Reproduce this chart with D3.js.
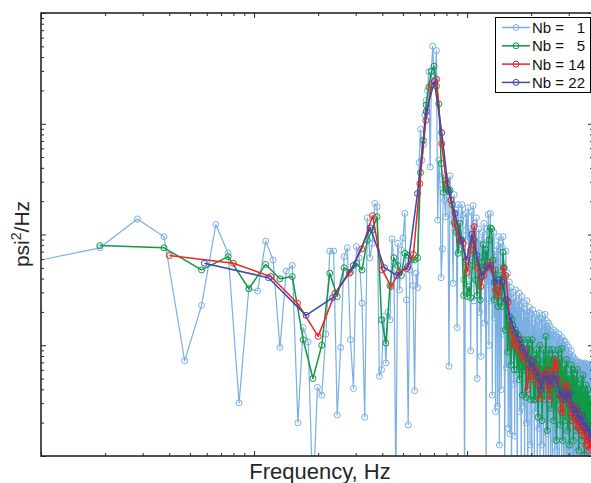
<!DOCTYPE html>
<html>
<head>
<meta charset="utf-8">
<script src="https://cdn.jsdelivr.net/npm/d3@7"></script>
<style>
  body { margin: 0; background: #fff; }
  svg { display: block; font-family: "Liberation Sans", Arial, sans-serif; }
</style>
</head>
<body>
<div id="chart"></div>
<script>
// Number of averaged blocks for each estimate (legend)
const nbValues = [1, 5, 14, 22];
// Frequency resolution of each estimate, Hz per bin
const binWidths = [0.945, 1.89, 4.0, 5.85];
const colors = ["#7aafe3", "#0f9a45", "#ee2424", "#3d48a8"];

// log10 of the PSD (psi^2/Hz), one value per frequency bin
const logPsd1 = [
  -2.24, -2.12, -1.86, -2.02, -3.14, -2.64, -1.91, -2.17, -3.52, -2.49,
  -2.51, -2.06, -2.23, -3.02, -2.33, -2.28, -3.70, -2.84, -2.97, -4.40,
  -3.38, -3.45, -2.90, -2.15, -2.15, -3.63, -3.02, -2.20, -2.12, -2.95,
  -3.39, -2.11, -2.21, -2.62, -3.65, -1.85, -2.21, -2.08, -1.72, -1.75,
  -3.28, -3.22, -2.74, -3.16, -2.70, -2.77, -2.04, -2.26, -4.30, -2.08,
  -2.50, -2.14, -2.03, -1.81, -2.59, -3.72, -2.32, -2.23, -2.46, -3.41,
  -2.35, -2.48, -1.35, -1.05, -1.33, -1.19, -0.92, -0.79, -0.70, -0.53,
  -1.39, -0.52, -0.30, -0.56, -0.60, -0.34, -1.87, -1.33, -1.55, -2.39,
  -2.13, -1.46, -1.69, -1.84, -1.51, -1.60, -3.19, -1.47, -1.69, -1.82,
  -2.44, -1.64, -1.96, -1.78, -2.84, -1.73, -2.14, -2.05, -1.87, -1.73,
  -1.82, -2.41, -4.30, -1.96, -1.81,
  -2.05, -1.76, -2.40, -1.95, -3.05, -1.80, -2.20, -1.74, -2.60, -1.90,
  -2.25, -1.85, -3.30, -2.10, -1.95, -2.70, -2.05, -3.10, -2.15, -1.98,
  -2.35, -1.90, -2.80, -2.10, -4.20, -1.95, -2.45, -1.82, -3.00, -2.20,
  -1.81, -2.60, -2.05, -3.45, -2.30, -1.98, -2.75, -2.15, -3.60, -2.40,
  -2.10, -3.55, -2.25, -2.02, -3.90, -2.50, -2.08, -3.40, -2.65, -2.12,
  -2.02, -2.90, -2.30, -4.30, -2.45, -2.15, -3.20, -2.60, -2.35, -3.75,
  -2.55, -2.43, -3.80, -2.70, -2.48, -4.40, -2.62, -3.05, -2.52, -3.35,
  -2.58, -3.82, -2.75, -2.50, -3.10, -2.66, -4.50, -2.60, -3.25, -2.72,
  -2.53, -3.60, -2.85, -2.65, -4.20, -2.56, -3.00, -2.78, -3.55, -2.62,
  -2.90, -4.10, -2.68, -3.20, -2.75, -3.70, -2.60, -2.95, -4.40, -2.70,
  -3.30, -2.80, -2.66, -3.90, -2.88, -3.05, -2.72, -4.30, -2.95, -2.68,
  -3.50, -2.82, -3.15, -4.20, -2.75, -2.98, -3.60, -2.72, -3.10, -2.88,
  -4.40, -2.78, -3.25, -2.92, -3.75, -2.71, -3.05, -4.10, -2.85, -3.35,
  -2.76, -3.90, -2.95, -2.73, -3.50, -3.10, -4.30, -2.80, -3.00, -3.65,
  -2.72, -3.20, -4.20, -2.90, -2.78, -3.45, -3.80, -2.85, -3.10, -4.50,
  -2.80, -3.30, -2.95, -3.70, -2.83, -4.10, -3.05, -2.88, -3.55, -3.20,
  -4.30, -2.90, -3.15, -2.86, -3.85, -3.00, -3.40, -4.20, -2.92, -3.25,
  -2.88, -3.60, -3.95, -2.95, -3.10, -4.40, -2.93, -3.35, -3.70, -3.00,
  -2.90, -4.20, -3.20, -2.98, -3.50, -3.85, -2.95, -3.15, -4.30, -3.05,
  -2.93, -3.40, -3.75, -3.00, -4.10, -3.10, -2.96, -3.60, -3.30, -4.40,
  -2.97, -3.25, -3.90, -3.05, -3.45, -4.20, -3.00, -3.35, -3.70, -3.10,
  -4.50, -3.02, -3.55, -3.20, -3.95, -3.08, -3.40, -4.30, -3.12, -3.65,
  -3.05, -3.85, -3.30, -4.10, -3.14, -3.50, -3.10, -4.40, -3.25, -3.70,
  -3.12, -3.45, -4.20, -3.15, -3.60, -3.95, -3.13, -3.35, -4.50, -3.20,
  -3.55, -3.16, -3.80, -4.10, -3.18, -3.40, -3.70, -3.15, -4.30, -3.25,
  -3.60, -3.17, -3.90, -3.35, -4.20, -3.16, -3.50, -3.75, -3.20, -4.40,
  -3.30, -3.16, -3.65, -4.00, -3.22, -3.45, -4.30, -3.17, -3.55, -3.85,
  -3.18, -4.20, -3.40, -3.16, -3.70, -3.95, -3.25, -3.50, -4.40, -3.17,
  -3.60, -3.30, -4.10, -3.18, -3.45, -3.80, -3.20, -4.30, -3.35, -3.17,
  -3.65, -4.00, -3.22, -3.50, -4.40, -3.18, -3.35, -3.90, -3.20, -3.60,
  -4.20, -3.25, -3.40, -3.75, -3.20
];

const logPsd5 = [
  -2.10, -2.12, -2.32, -2.20, -2.49, -2.27, -2.40, -2.38, -2.95, -3.30,
  -3.00, -2.35, -2.56, -2.30, -2.34, -2.26, -2.32, -2.05, -1.96, -1.84,
  -2.77, -2.98, -2.46, -2.21, -2.28, -2.37, -2.17, -2.19, -2.23, -2.23,
  -2.21, -1.44, -1.15, -0.83, -0.67, -0.53, -0.48, -0.66, -0.82, -1.36,
  -1.62, -1.51, -1.59, -1.60, -1.73, -1.89, -1.98, -2.17, -1.90, -2.05,
  -2.55, -2.25, -2.56, -2.47, -2.57, -2.28, -2.05, -2.41, -2.55, -2.25,
  -2.59, -2.25, -2.09, -2.32, -2.14, -2.25, -2.05, -1.94, -1.95, -2.23,
  -2.59, -2.32, -2.50, -2.65, -2.50, -2.37, -2.65, -2.16, -2.30, -2.86,
  -2.59, -3.06, -2.77, -3.00, -3.18, -2.77, -2.95, -3.22, -2.86, -3.04,
  -3.22, -2.91, -3.31, -3.00, -3.13, -3.45, -2.95, -3.22, -3.04, -3.47,
  -3.13, -2.95, -3.31, -3.00, -3.49, -3.13, -2.95, -3.27, -3.49, -3.09,
  -3.49, -3.04, -3.22, -3.65, -3.13, -3.00, -3.40, -3.18, -3.68, -3.31,
  -3.04, -3.49, -3.22, -2.92, -3.31, -3.77, -3.13, -3.04, -3.45, -3.27,
  -3.13, -3.57, -3.04, -3.31, -3.68, -3.22, -3.09, -3.49, -3.86, -3.18,
  -3.36, -3.04, -3.49, -3.13, -3.72, -3.31, -3.03, -3.45, -3.86, -3.22,
  -3.45, -3.18, -3.68, -3.31, -3.13, -3.49, -3.77, -3.27, -3.40, -3.90,
  -3.31, -3.49, -3.18, -3.68, -3.36, -3.22, -3.86, -3.43, -3.27, -3.58,
  -3.31, -3.77, -3.40, -3.22, -3.63, -3.49, -3.95, -3.36, -3.43, -3.68,
  -3.45, -3.31, -3.86, -3.54, -3.27, -3.68, -3.49, -3.99, -3.40, -3.58,
  -3.36, -3.77, -3.49, -3.68, -3.40, -3.90, -3.58, -3.45, -3.72, -3.49,
  -3.86, -3.54
];

const logPsd14 = [
  -2.19, -2.26, -2.38, -2.62, -2.92, -2.53, -2.35, -2.13, -1.83, -2.32,
  -2.47, -2.34, -2.31, -2.18, -1.54, -0.97, -0.65, -0.60, -1.18, -1.54,
  -1.69, -1.91, -2.05, -2.08, -2.34, -2.14, -1.93, -2.30, -2.47, -2.37,
  -2.30, -2.25, -2.32, -2.50, -2.56, -2.46, -2.30, -2.37, -2.61, -2.86,
  -3.00, -2.91, -3.04, -2.95, -3.09, -3.13, -3.04, -3.40, -3.22, -3.13,
  -3.31, -3.21, -3.21, -3.36, -3.48, -3.27, -3.31, -3.25, -3.40, -3.22,
  -3.49, -3.27, -3.36, -3.13, -3.22, -3.16, -3.31, -3.45, -3.58, -3.61,
  -3.45, -3.36, -3.49, -3.36, -3.45, -3.54, -3.61, -3.68, -3.54, -3.61,
  -3.72, -3.58, -3.74, -3.63, -3.77, -3.68, -3.81, -3.72, -3.78, -3.90,
  -3.77, -3.86, -3.95, -3.84, -3.93, -3.87
];

const logPsd22 = [
  -2.26, -2.39, -2.73, -2.57, -2.28, -1.94, -2.30, -2.37, -2.29, -1.63,
  -0.89, -0.62, -1.08, -1.61, -1.81, -2.05, -2.23, -2.00, -2.19, -2.38,
  -2.29, -2.28, -2.43, -2.41, -2.43, -2.59, -2.74, -2.82, -2.89, -2.95,
  -3.02, -3.06, -3.12, -3.20, -3.15, -3.24, -3.29, -3.40, -3.31, -3.27,
  -3.31, -3.36, -3.30, -3.27, -3.31, -3.39, -3.45, -3.43, -3.49, -3.42,
  -3.48, -3.43, -3.54, -3.58, -3.61, -3.57, -3.66, -3.68, -3.63, -3.72,
  -3.69, -3.75, -3.78, -3.75, -3.84, -3.81
];

const logSeries = [logPsd1, logPsd5, logPsd14, logPsd22];

// Plot box (the right border sits just outside the picture)
const W = 591, H = 483;
const plotLeft = 41, plotRight = 593, plotTop = 13, plotBottom = 456;

const svg = d3.select("#chart").append("svg")
  .attr("width", W)
  .attr("height", H);

const x = d3.scaleLog().domain([1, 390]).range([plotLeft, plotRight]);
const y = d3.scaleLog().domain([1e-4, 1]).range([plotBottom, plotTop]);

svg.append("clipPath").attr("id", "plot-clip")
  .append("rect")
  .attr("x", plotLeft).attr("y", plotTop)
  .attr("width", plotRight - plotLeft).attr("height", plotBottom - plotTop);

// Series
const line = d3.line()
  .x(d => x(d.f))
  .y(d => y(d.p));

const plot = svg.append("g").attr("clip-path", "url(#plot-clip)");

logSeries.forEach((vals, k) => {
  const pts = vals.map((v, i) => ({ f: (i + 1) * binWidths[k], p: Math.pow(10, v) }));
  const g = plot.append("g");
  g.append("path")
    .datum(pts)
    .attr("fill", "none")
    .attr("stroke", colors[k])
    .attr("stroke-width", k === 0 ? 1.2 : 1.5)
    .attr("stroke-linejoin", "round")
    .attr("d", line);
  g.selectAll("circle")
    .data(pts)
    .join("circle")
    .attr("cx", d => x(d.f))
    .attr("cy", d => y(d.p))
    .attr("r", 3)
    .attr("fill", "none")
    .attr("stroke", colors[k])
    .attr("stroke-width", 1);
});

// Axes: log ticks, major longer than minor, pointing inward, no labels
const isMajor = v => Math.abs(Math.log10(v) - Math.round(Math.log10(v))) < 1e-6;
const xTicks = x.ticks();
const yTicks = y.ticks();

function ticks(axisFn, scale, tr, vals, len) {
  svg.append("g")
    .attr("transform", tr)
    .call(axisFn(scale).tickValues(vals).tickSize(-len).tickSizeOuter(0).tickFormat(""))
    .call(g => g.select(".domain").remove())
    .call(g => g.selectAll("line").attr("stroke", "#262626"));
}

[[d3.axisBottom, `translate(0,${plotBottom})`], [d3.axisTop, `translate(0,${plotTop})`]].forEach(([fn, tr]) => {
  ticks(fn, x, tr, xTicks.filter(isMajor), 5);
  ticks(fn, x, tr, xTicks.filter(v => !isMajor(v)), 3);
});
[[d3.axisLeft, `translate(${plotLeft},0)`], [d3.axisRight, `translate(${plotRight},0)`]].forEach(([fn, tr]) => {
  ticks(fn, y, tr, yTicks.filter(isMajor), 5);
  ticks(fn, y, tr, yTicks.filter(v => !isMajor(v)), 3);
});

svg.append("rect")
  .attr("x", plotLeft).attr("y", plotTop)
  .attr("width", plotRight - plotLeft).attr("height", plotBottom - plotTop)
  .attr("fill", "none")
  .attr("stroke", "#262626")
  .attr("stroke-width", 1.6);

// Axis labels
svg.append("text")
  .attr("x", 320).attr("y", 479)
  .attr("text-anchor", "middle")
  .attr("font-size", 22)
  .attr("fill", "#262626")
  .text("Frequency, Hz");

const yLab = svg.append("text")
  .attr("transform", "translate(29,234) rotate(-90)")
  .attr("text-anchor", "middle")
  .attr("font-size", 21)
  .attr("fill", "#262626");
yLab.append("tspan").text("psi");
yLab.append("tspan").attr("font-size", 14).attr("dy", -8).text("2");
yLab.append("tspan").attr("dy", 8).text("/Hz");

// Legend
const legend = svg.append("g");
legend.append("rect")
  .attr("x", 495.5).attr("y", 17.5)
  .attr("width", 95).attr("height", 75)
  .attr("fill", "#fff")
  .attr("stroke", "#000")
  .attr("stroke-width", 1);

nbValues.forEach((nb, k) => {
  const cy = 27.5 + k * 18.3;
  legend.append("line")
    .attr("x1", 502).attr("x2", 530)
    .attr("y1", cy).attr("y2", cy)
    .attr("stroke", colors[k])
    .attr("stroke-width", 1.5);
  legend.append("circle")
    .attr("cx", 516).attr("cy", cy).attr("r", 3)
    .attr("fill", "none")
    .attr("stroke", colors[k]);
  legend.append("text")
    .attr("x", 532).attr("y", cy + 5.5)
    .attr("font-size", 15)
    .attr("fill", "#111")
    .text("Nb =");
  legend.append("text")
    .attr("x", 585).attr("y", cy + 5.5)
    .attr("text-anchor", "end")
    .attr("font-size", 15)
    .attr("fill", "#111")
    .text(nb);
});
</script>
</body>
</html>
